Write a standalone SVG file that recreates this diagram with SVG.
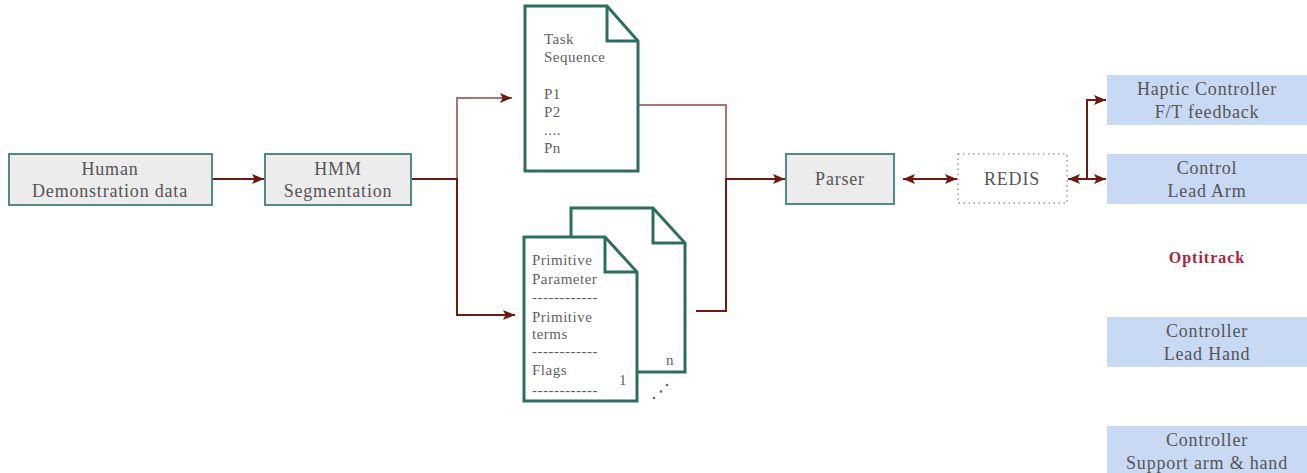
<svg xmlns="http://www.w3.org/2000/svg" width="1307" height="473" viewBox="0 0 1307 473">
  <defs>
    <marker id="head" viewBox="0 0 12 10" refX="12" refY="5" markerWidth="12" markerHeight="10" markerUnits="userSpaceOnUse" orient="auto-start-reverse">
      <path d="M0,0 L12,5 L0,10 L2.5,5 Z" fill="#6e1a0e"/>
    </marker>
    <style>
      .box { fill: #ececec; stroke: #4d8d85; stroke-width: 2; }
      .ctl { fill: #c8d9f3; }
      .doc { fill: #ffffff; stroke: #2e6e60; stroke-width: 3; stroke-linejoin: miter; }
      .fold { fill: none; stroke: #2e6e60; stroke-width: 3; }
      .serif { font-family: "Liberation Serif", "Times New Roman", Times, "DejaVu Serif", "Noto Serif", serif; }
      .lbl { font-size: 18px; letter-spacing: 0.8px; fill: #555555; text-anchor: middle; }
      .dtx { font-size: 15px; letter-spacing: 0.5px; fill: #5f5f5f; }
      .wire { fill: none; stroke: #6e1a0e; stroke-width: 2; }
      .soft { stroke-opacity: 0.6; }
    </style>
  </defs>

  <!-- connectors -->
  <g id="connectors">
    <path class="wire" d="M212 179 H264" marker-end="url(#head)"/>
    <path class="wire" d="M411 179 H457 V315 H515" marker-end="url(#head)"/>
    <path class="wire soft" d="M457 179 V98 H512"/>
    <path d="M500 93 L512 98 L500 103 L502.5 98 Z" fill="#6e1a0e"/>
    <path class="wire soft" d="M638 105 H726 V179"/>
    <path class="wire" d="M696 311 H726 V179 H785" marker-end="url(#head)"/>
    <path class="wire" d="M903 179 H957" marker-start="url(#head)" marker-end="url(#head)"/>
    <path class="wire" d="M1068 179 H1106" marker-start="url(#head)" marker-end="url(#head)"/>
    <path class="wire" d="M1087 179 V100 H1106" marker-end="url(#head)"/>
  </g>

  <g id="human-demo" class="serif">
    <rect class="box" x="9" y="154" width="203" height="51"/>
    <text class="lbl" x="110" y="175">Human</text>
    <text class="lbl" x="110" y="197">Demonstration data</text>
  </g>

  <g id="hmm" class="serif">
    <rect class="box" x="265" y="154" width="146" height="51"/>
    <text class="lbl" x="338" y="175">HMM</text>
    <text class="lbl" x="338" y="197">Segmentation</text>
  </g>

  <g id="task-sequence" class="serif">
    <path class="doc" d="M525 6 H607 L638 41 V171 H525 Z"/>
    <path class="fold" d="M607 6 V41 H638"/>
    <text class="dtx" x="544" y="44">Task</text>
    <text class="dtx" x="544" y="62">Sequence</text>
    <text class="dtx" x="544" y="99">P1</text>
    <text class="dtx" x="544" y="117">P2</text>
    <text class="dtx" x="544" y="135">....</text>
    <text class="dtx" x="544" y="153">Pn</text>
  </g>

  <g id="primitives" class="serif">
    <path class="doc" d="M571 208 H653 L685 243 V372 H571 Z"/>
    <path class="fold" d="M653 208 V243 H685"/>
    <text class="dtx" x="666" y="365">n</text>
    <path class="doc" d="M524 237 H605 L637 272 V401 H524 Z"/>
    <path class="fold" d="M605 237 V272 H637"/>
    <text class="dtx" x="532" y="265">Primitive</text>
    <text class="dtx" x="532" y="284">Parameter</text>
    <text class="dtx" x="532" y="302">------------</text>
    <text class="dtx" x="532" y="322">Primitive</text>
    <text class="dtx" x="532" y="339">terms</text>
    <text class="dtx" x="532" y="356">------------</text>
    <text class="dtx" x="532" y="375">Flags</text>
    <text class="dtx" x="619" y="385">1</text>
    <text class="dtx" x="532" y="395">------------</text>
    <g fill="#666666">
      <circle cx="654" cy="398" r="1.3"/>
      <circle cx="661" cy="391.5" r="1.3"/>
      <circle cx="667" cy="385" r="1.3"/>
    </g>
  </g>

  <g id="parser" class="serif">
    <rect class="box" x="786" y="154" width="108" height="50"/>
    <text class="lbl" x="840" y="185">Parser</text>
  </g>

  <g id="redis" class="serif">
    <rect x="958" y="154" width="109" height="49" fill="#ffffff" stroke="#9a9a9a" stroke-width="1.5" stroke-dasharray="1.5 3.5"/>
    <text class="lbl" x="1012" y="185">REDIS</text>
  </g>

  <g id="haptic-controller" class="serif">
    <rect class="ctl" x="1107" y="75" width="200" height="50"/>
    <text class="lbl" x="1207" y="95">Haptic Controller</text>
    <text class="lbl" x="1207" y="118">F/T feedback</text>
  </g>

  <g id="lead-arm" class="serif">
    <rect class="ctl" x="1107" y="154" width="200" height="50"/>
    <text class="lbl" x="1207" y="174">Control</text>
    <text class="lbl" x="1207" y="197">Lead Arm</text>
  </g>

  <g id="optitrack" class="serif">
    <text x="1207" y="263" font-size="16" font-weight="bold" letter-spacing="1" fill="#b3203a" text-anchor="middle">Optitrack</text>
  </g>

  <g id="lead-hand" class="serif">
    <rect class="ctl" x="1107" y="317" width="200" height="50"/>
    <text class="lbl" x="1207" y="337">Controller</text>
    <text class="lbl" x="1207" y="360">Lead Hand</text>
  </g>

  <g id="support-arm-hand" class="serif">
    <rect class="ctl" x="1107" y="426" width="200" height="50"/>
    <text class="lbl" x="1207" y="446">Controller</text>
    <text class="lbl" x="1207" y="469">Support arm &amp; hand</text>
  </g>
</svg>
